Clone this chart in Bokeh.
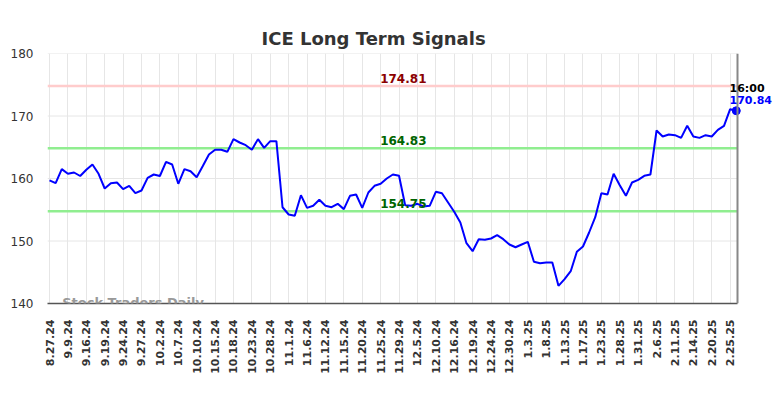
import numpy as np
from bokeh.plotting import figure
from bokeh.models import Span, Label, FixedTicker, Range1d, ColumnDataSource
from bokeh.embed import file_html
from bokeh.resources import INLINE

# ---- data ----
tick_labels = ["8.27.24", "9.9.24", "9.16.24", "9.19.24", "9.24.24", "9.27.24", "10.2.24", "10.7.24",
               "10.10.24", "10.15.24", "10.18.24", "10.23.24", "10.28.24", "11.1.24", "11.6.24",
               "11.12.24", "11.15.24", "11.20.24", "11.25.24", "11.29.24", "12.5.24", "12.10.24",
               "12.16.24", "12.19.24", "12.24.24", "12.30.24", "1.3.25", "1.8.25", "1.13.25",
               "1.17.25", "1.23.25", "1.28.25", "1.31.25", "2.6.25", "2.11.25", "2.14.25",
               "2.20.25", "2.25.25"]
tick_step = 3

prices = [159.7, 159.25, 161.5, 160.75, 160.96, 160.4, 161.4, 162.24, 160.75, 158.4,
          159.25, 159.36, 158.3, 158.83, 157.65, 158.08, 160.1, 160.64, 160.4, 162.67,
          162.24, 159.15, 161.5, 161.17, 160.2, 162.0, 163.84, 164.6, 164.6, 164.27,
          166.3, 165.76, 165.33, 164.6, 166.3, 164.9, 165.97, 165.97, 155.4, 154.24,
          154.03, 157.33, 155.3, 155.63, 156.59, 155.63, 155.41, 155.95, 155.1, 157.23,
          157.44, 155.3, 157.76, 158.83, 159.15, 160.0, 160.64, 160.43, 155.73, 155.63,
          155.95, 155.52, 155.63, 157.87, 157.65, 156.16, 154.67, 152.96, 149.65, 148.37,
          150.29, 150.19, 150.4, 150.93, 150.29, 149.44, 149.0, 149.44, 149.87, 146.67,
          146.45, 146.56, 146.56, 142.83, 143.89, 145.17, 148.27, 149.12, 151.36, 153.81,
          157.65, 157.44, 160.75, 158.93, 157.23, 159.36, 159.79, 160.43, 160.64, 167.68,
          166.72, 167.04, 166.93, 166.5, 168.43, 166.72, 166.5, 166.93, 166.72, 167.79,
          168.43, 171.09, 170.84]

y_ticks = [140, 150, 160, 170, 180]
resistance = 174.81
mid_level = 164.83
support = 154.75
last_time = "16:00"
last_price = 170.84

FONT = "DejaVu Sans"

n = len(prices)
x = list(range(n))
src = ColumnDataSource(dict(x=x, y=prices))

x_start = -0.33
x_end_plot = n - 1 + 0.2          # where the chart area visually ends
px_per_unit = 690 / (x_end_plot - x_start)
frame_w = 784 - 47 - 8
x_end_frame = x_start + frame_w / px_per_unit   # extra room on right for labels

p = figure(width=784, height=398, output_backend="svg", toolbar_location=None,
           x_range=Range1d(x_start, x_end_frame), y_range=Range1d(140, 180),
           min_border_left=47, min_border_right=8, min_border_top=53, min_border_bottom=95)

p.title.text = "ICE Long Term Signals"
p.title.align = "left"
p.title.offset = 214
p.title.text_font = FONT
p.title.text_font_size = "18px"
p.title.text_font_style = "bold"
p.title.text_color = "#333333"

p.outline_line_color = None
p.background_fill_color = "white"

# grids (horizontal ones drawn as bounded segments)
p.xgrid.ticker = FixedTicker(ticks=list(range(0, n, tick_step)))
p.xgrid.grid_line_color = "#e6e6e6"
p.ygrid.grid_line_color = None
gy = p.segment(x0=[x_start] * len(y_ticks), x1=[x_end_plot] * len(y_ticks), y0=y_ticks, y1=y_ticks,
               line_color="#e6e6e6", line_width=1)
gy.level = "underlay"

# x axis
p.xaxis.ticker = FixedTicker(ticks=list(range(0, len(tick_labels) * tick_step, tick_step)))
p.xaxis.major_label_overrides = {i * tick_step: lab for i, lab in enumerate(tick_labels)}
p.xaxis.major_label_orientation = np.pi / 2
p.xaxis.major_label_text_font = FONT
p.xaxis.major_label_text_font_size = "11px"
p.xaxis.major_label_text_font_style = "bold"
p.xaxis.major_label_text_color = "#333333"
p.xaxis.major_tick_line_color = None
p.xaxis.major_tick_out = 0
p.xaxis.minor_tick_line_color = None
p.xaxis.axis_line_color = "#555555"
p.xaxis.axis_line_width = 1.5
p.xaxis.bounds = (x_start, x_end_plot)
p.xaxis.major_label_standoff = 16

# y axis
p.yaxis.ticker = FixedTicker(ticks=y_ticks)
p.yaxis.major_label_text_font = FONT
p.yaxis.major_label_text_font_size = "12px"
p.yaxis.major_label_text_color = "#333333"
p.yaxis.major_tick_line_color = None
p.yaxis.major_tick_out = 0
p.yaxis.minor_tick_line_color = None
p.yaxis.axis_line_color = None
p.yaxis.major_label_standoff = 14

# level lines
levels = [resistance, mid_level, support]
level_colors = ["#ffcccc", "#90ee90", "#90ee90"]
p.segment(x0=[x_start] * 3, x1=[x_end_plot] * 3, y0=levels, y1=levels,
          line_color=level_colors, line_width=2.5)
p.add_layout(Span(location=x_end_plot, dimension="height", line_color="#888888", line_width=2))

# price line
p.line("x", "y", source=src, line_color="#0000ff", line_width=2)
p.scatter([x[-1]], [prices[-1]], size=8, color="#0000ff")

# level labels
mid_x = 57.7
for val, col in [(resistance, "#8b0000"), (mid_level, "#006400"), (support, "#006400")]:
    p.add_layout(Label(x=mid_x, y=val, text=f"{val:.2f}", text_font=FONT, text_font_size="12px",
                       text_font_style="bold", text_color=col, text_align="center",
                       text_baseline="bottom", y_offset=3))

# last price labels
p.add_layout(Label(x=110.9, y=174.4, text=last_time, text_font=FONT, text_font_size="11px",
                   text_font_style="bold", text_color="#000000", text_align="left",
                   text_baseline="middle"))
p.add_layout(Label(x=110.9, y=172.5, text=f"{last_price:.2f}", text_font=FONT, text_font_size="11px",
                   text_font_style="bold", text_color="#0000ff", text_align="left",
                   text_baseline="middle"))

# watermark
p.add_layout(Label(x=2.07, y=140.2, text="Stock Traders Daily", text_font=FONT, text_font_size="13px",
                   text_font_style="bold", text_color="#999999", text_align="left",
                   text_baseline="middle"))

open("out.html", "w").write(file_html(p, INLINE))
